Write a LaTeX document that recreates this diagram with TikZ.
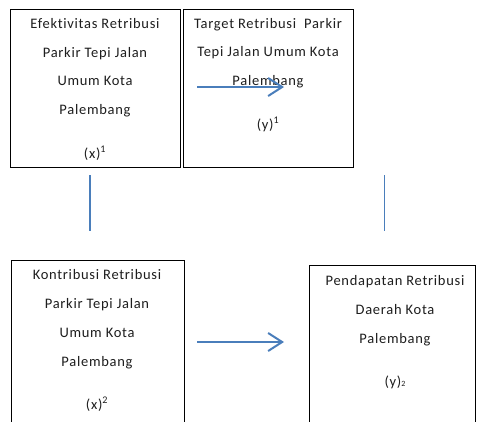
\documentclass[tikz,border=0pt]{standalone}
\usepackage{fontspec}
\setmainfont[LetterSpace=5,Ligatures=NoCommon]{Carlito}
\usetikzlibrary{arrows.meta}
\definecolor{linkblue}{HTML}{4A7EBB}
\definecolor{txt}{HTML}{1E1E1E}
\begin{document}
\begin{tikzpicture}[x=1pt,y=-1pt,
  box/.style={draw=black,line width=0.9pt,inner sep=0pt},
  label/.style={text=txt,font=\fontsize{14.5pt}{16pt}\selectfont,inner sep=0pt,anchor=base},
  flow/.style={draw=linkblue,line width=2pt,-{Straight Barb[length=14pt,width=18pt,line width=2pt]}},
  link/.style={draw=linkblue,line width=1.6pt}]
\useasboundingbox (0,0) rectangle (477,421);
\clip (0,0) rectangle (477,421);
\fill[white] (0,0) rectangle (477,421);

% boxes
\node[box,minimum width=170pt,minimum height=158pt] (b1) at (95,88) {};
\node[box,minimum width=170pt,minimum height=158pt] (b2) at (268,88) {};
\node[box,minimum width=173pt,minimum height=180pt] (b3) at (97.5,350) {};
\node[box,minimum width=166pt,minimum height=170pt] (b4) at (392,350) {};

% box 1 text
\node[label] (t11) at (95,28) {Efektivitas Retribusi};
\node[label] (t12) at (95,57) {Parkir Tepi Jalan};
\node[label] (t13) at (95,85) {Umum Kota};
\node[label] (t14) at (95,114) {Palembang};
\node[label] (t15) at (95,158) {(x)\textsuperscript{1}};

% box 2 text
\node[label] (t21) at (268,28) {Target Retribusi\ \ Parkir};
\node[label] (t22) at (268,56) {Tepi Jalan Umum Kota};
\node[label] (t23) at (268,85) {Palembang};
\node[label] (t24) at (268,129) {(y)\textsuperscript{1}};

% box 3 text
\node[label] (t31) at (97,279) {Kontribusi Retribusi};
\node[label] (t32) at (97,308) {Parkir Tepi Jalan};
\node[label] (t33) at (97,337) {Umum Kota};
\node[label] (t34) at (97,366) {Palembang};
\node[label] (t35) at (97,409) {(x)\textsuperscript{2}};

% box 4 text
\node[label] (t41) at (395,285) {Pendapatan Retribusi};
\node[label] (t42) at (395,314) {Daerah Kota};
\node[label] (t43) at (395,343) {Palembang};
\node[label] (t44) at (395,386) {(y){\footnotesize 2}};

% connectors
\coordinate (a1s) at (197,87);
\coordinate (a1e) at (284,87);
\coordinate (a2s) at (197,342);
\coordinate (a2e) at (284,342);
\coordinate (v1t) at (90,175);
\coordinate (v1b) at (90,231);
\coordinate (v2t) at (384.5,175);
\coordinate (v2b) at (384.5,231);

\draw[flow] (a1s) -- (a1e);
\draw[flow] (a2s) -- (a2e);
\draw[link] (v1t) -- (v1b);
\draw[link] (v2t) -- (v2b);
\end{tikzpicture}
\end{document}
